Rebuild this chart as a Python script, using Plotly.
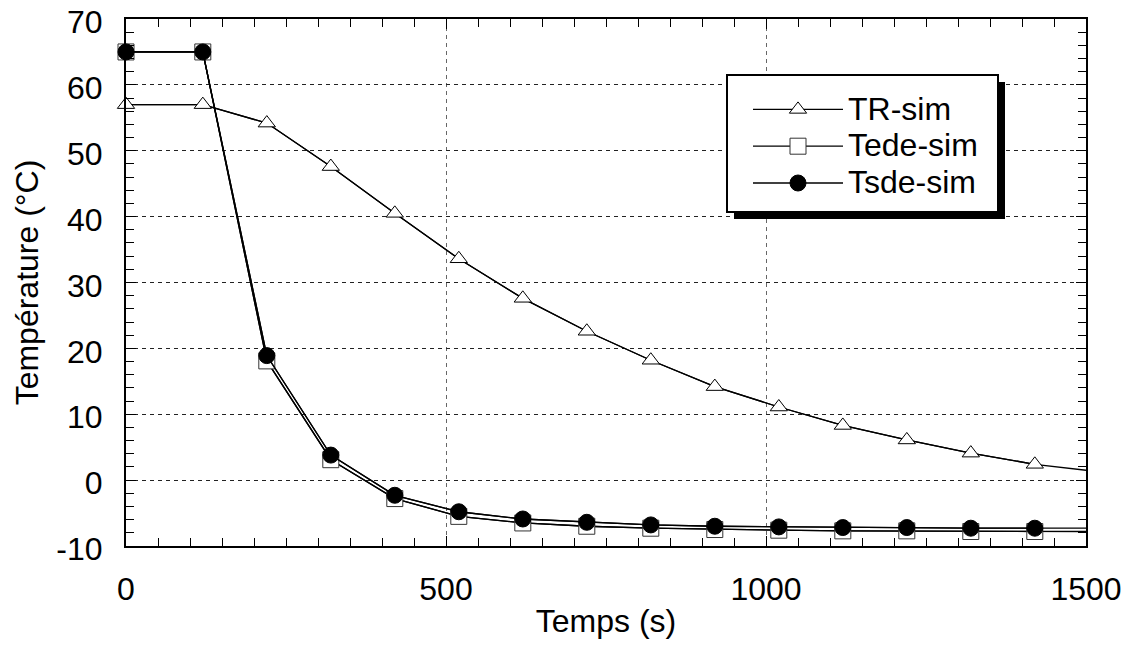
import plotly.graph_objects as go

# ---- data ----
t_markers = [0, 120, 220, 320, 420, 520, 620, 720, 820, 920, 1020, 1120, 1220, 1320, 1420]
t_end = 1500
tr_sim = [57.0, 57.0, 54.2, 47.6, 40.5, 33.6, 27.6, 22.6, 18.2, 14.2, 11.1, 8.3, 6.1, 4.1, 2.4]
tr_end = 1.5
tede_sim = [65.0, 65.0, 18.1, 3.1, -2.8, -5.5, -6.5, -7.0, -7.3, -7.5, -7.6, -7.7, -7.7, -7.8, -7.8]
tede_end = -7.8
tsde_sim = [65.0, 65.0, 18.9, 3.8, -2.3, -4.8, -5.9, -6.4, -6.8, -7.0, -7.1, -7.2, -7.2, -7.3, -7.3]
tsde_end = -7.3

x_ticks = [0, 500, 1000, 1500]
x_ticklabels = ["0", "500", "1000", "1500"]
y_ticks = [-10, 0, 10, 20, 30, 40, 50, 60, 70]
y_ticklabels = ["-10", "0", "10", "20", "30", "40", "50", "60", "70"]

x_title = "Temps (s)"
y_title = "Température (°C)"
names = ["TR-sim", "Tede-sim", "Tsde-sim"]

FONT = "Arial, Liberation Sans, sans-serif"
FS = 32
LEG_FS = 26  # controls legend row spacing; text itself drawn at FS

fig = go.Figure()

series = [
    (tr_sim, tr_end, dict(symbol="triangle-up", size=15, color="white", line=dict(color="black", width=1))),
    (tede_sim, tede_end, dict(symbol="square", size=16, color="white", line=dict(color="#333", width=1))),
    (tsde_sim, tsde_end, dict(symbol="circle", size=16, color="black", line=dict(color="black", width=1))),
]

for name, (vals, endv, mk) in zip(names, series):
    # tail of the line up to the axis end (no marker)
    fig.add_trace(go.Scatter(
        x=t_markers + [t_end], y=vals + [endv], mode="lines",
        line=dict(color="black", width=1.3), showlegend=False, hoverinfo="skip",
    ))
    fig.add_trace(go.Scatter(
        x=t_markers, y=vals, mode="lines+markers",
        name=f'<span style="font-size:{FS}px">{name}</span>',
        line=dict(color="black", width=1.3), marker=mk, cliponaxis=False,
    ))

# page body has an 8px margin: shift everything by -8
OFF = 8
W, H = 1132 - OFF, 646 - OFF
L, R, T, B = 126 - OFF, 1086 - OFF, 19 - OFF, 546 - OFF

def px2paper_x(px):
    return (px - OFF - L) / (R - L)

def px2paper_y(py):
    return (B - (py - OFF)) / (B - T)

# legend box with shadow (page pixel coordinates of the reference)
fig.add_shape(type="rect", xref="paper", yref="paper",
              x0=px2paper_x(734), x1=px2paper_x(1005), y0=px2paper_y(219), y1=px2paper_y(82),
              fillcolor="black", line=dict(width=0), layer="above")
fig.add_shape(type="rect", xref="paper", yref="paper",
              x0=px2paper_x(727), x1=px2paper_x(998), y0=px2paper_y(212), y1=px2paper_y(75),
              fillcolor="white", line=dict(color="black", width=2), layer="above")

axis_common = dict(
    showline=True, linecolor="black", linewidth=2, mirror="allticks",
    ticks="inside", ticklen=10, tickwidth=1.3, tickcolor="black",
    showgrid=True, gridwidth=1, griddash="4px,4px",
    zeroline=False, tickfont=dict(family=FONT, size=FS, color="black"),
    ticklabeloverflow="allow",
)

fig.update_xaxes(
    range=[0, 1500], tickvals=x_ticks, ticktext=x_ticklabels, gridcolor="#666",
    minor=dict(dtick=50, ticks="inside", ticklen=8, tickwidth=1.3, tickcolor="black", showgrid=False),
    title=dict(text=x_title, font=dict(family=FONT, size=FS, color="black"), standoff=3),
    ticklabelstandoff=14,
    **axis_common,
)
fig.update_yaxes(
    range=[-10, 70], tickvals=y_ticks, ticktext=y_ticklabels, gridcolor="#222",
    minor=dict(dtick=2, ticks="inside", ticklen=8, tickwidth=1.3, tickcolor="black", showgrid=False),
    title=dict(text=y_title, font=dict(family=FONT, size=FS, color="black"), standoff=8),
    ticklabelstandoff=15, ticklabelshift=3,
    **axis_common,
)

fig.update_layout(
    width=W, height=H,
    margin=dict(l=L, r=W - R, t=T, b=H - B, autoexpand=False),
    paper_bgcolor="white", plot_bgcolor="white",
    font=dict(family=FONT, size=FS, color="black"),
    legend=dict(
        x=px2paper_x(748), y=px2paper_y(86), xanchor="left", yanchor="top",
        bgcolor="rgba(0,0,0,0)", borderwidth=0, itemwidth=90,
        font=dict(family=FONT, size=LEG_FS, color="black"), tracegroupgap=0,
    ),
    showlegend=True,
)

fig.write_html("out.html")
